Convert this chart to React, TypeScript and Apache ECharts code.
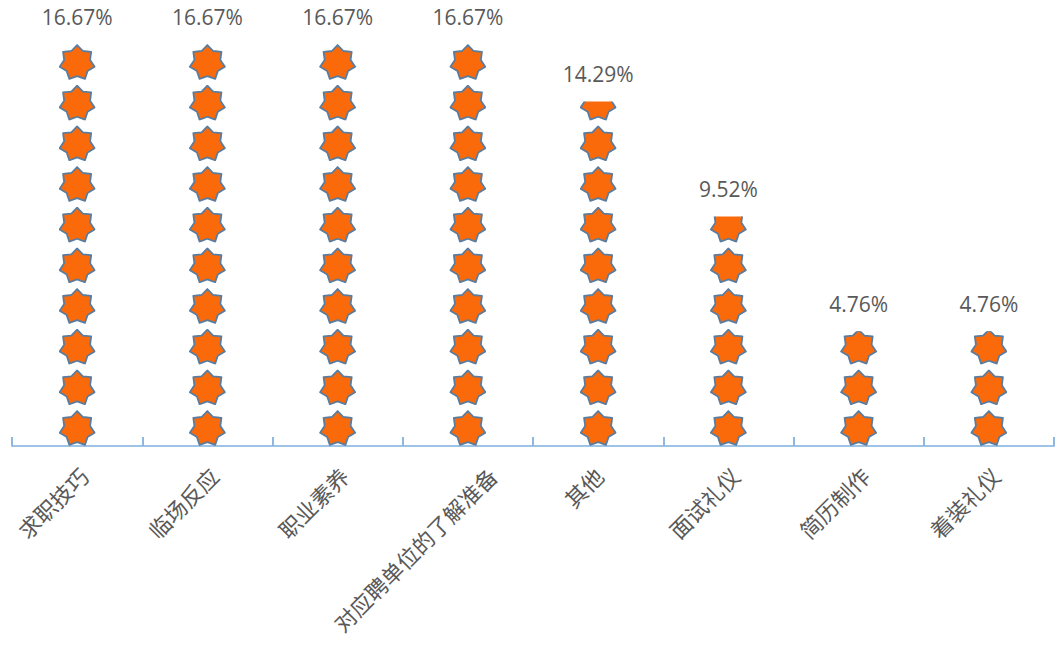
import React, { useEffect, useRef } from "react";
import * as echarts from "echarts";

const categories = ["求职技巧", "临场反应", "职业素养", "对应聘单位的了解准备", "其他", "面试礼仪", "简历制作", "着装礼仪"];
const values = [16.67, 16.67, 16.67, 16.67, 14.29, 9.52, 4.76, 4.76];
const maxValue = 16.67;

function starImage(points: number, inner: number, fill: string, stroke: string, sw: number): string {
  const pts: number[][] = [];
  for (let i = 0; i < points * 2; i++) {
    const r = i % 2 === 0 ? 50 : 50 * inner;
    const a = -Math.PI / 2 + (i * Math.PI) / points;
    pts.push([r * Math.cos(a), r * Math.sin(a)]);
  }
  const xs = pts.map((p) => p[0]);
  const ys = pts.map((p) => p[1]);
  const pad = sw / 2 + 0.5;
  const minX = Math.min(...xs) - pad;
  const minY = Math.min(...ys) - pad;
  const w = Math.max(...xs) - Math.min(...xs) + pad * 2;
  const h = Math.max(...ys) - Math.min(...ys) + pad * 2;
  const d = pts.map((p, i) => (i === 0 ? "M" : "L") + p[0].toFixed(2) + " " + p[1].toFixed(2)).join(" ") + " Z";
  const svg =
    `<svg xmlns="http://www.w3.org/2000/svg" viewBox="${minX.toFixed(2)} ${minY.toFixed(2)} ${w.toFixed(2)} ${h.toFixed(2)}" preserveAspectRatio="none">` +
    `<path d="${d}" fill="${fill}" stroke="${stroke}" stroke-width="${sw}" stroke-linejoin="round"/></svg>`;
  return "image://data:image/svg+xml;charset=utf-8," + encodeURIComponent(svg);
}

// spacer sizes so that the rotated label moves right with its length while its top stays level
function labelShift(name: string) {
  const n = name.length;
  const dx = 3 * n - 5;
  const dy = 26;
  const sum = dy * Math.SQRT2;
  const diff = dx * Math.SQRT2;
  return { h: Math.max((sum + diff) / 2 - 13, 1), w: Math.max((sum - diff) / 2, 0.5) };
}

export default function App() {
  const ref = useRef<HTMLDivElement>(null);
  useEffect(() => {
    if (!ref.current) return;
    const chart = echarts.init(ref.current, undefined, { renderer: "svg" });
    const rich: Record<string, any> = {
      t: { fontSize: 22, lineHeight: 24, color: "#595959", fontFamily: "Noto Sans CJK SC" },
    };
    categories.forEach((c, i) => {
      const s = labelShift(c);
      rich["v" + i] = { fontSize: 1, lineHeight: s.h, height: s.h };
      rich["w" + i] = { fontSize: 1, width: s.w, lineHeight: 24 };
    });
    chart.setOption({
      animation: false,
      grid: { left: 12, right: 3, top: 44, bottom: 206, containLabel: false },
      xAxis: {
        type: "category",
        data: categories,
        axisLine: { lineStyle: { color: "#9DC3E6", width: 2 } },
        axisTick: { show: true, inside: true, length: 9, lineStyle: { color: "#8FB8E0", width: 2 } },
        axisLabel: {
          rotate: 45,
          interval: 0,
          margin: 0,
          align: "right",
          verticalAlign: "top",
          color: "#595959",
          fontSize: 22,
          fontFamily: "Noto Sans CJK SC",
          formatter: (v: string) => {
            const i = categories.indexOf(v);
            return `{v${i}| }\n{t|${v}}{w${i}| }`;
          },
          rich,
        },
      },
      yAxis: {
        type: "value",
        min: 0,
        max: maxValue,
        show: false,
        splitLine: { show: false },
      },
      series: [
        {
          type: "pictorialBar",
          data: values,
          symbol: starImage(7, 0.74, "#FA6A0A", "#5A7C9E", 5),
          symbolSize: [37, 36],
          symbolRepeat: true,
          symbolClip: true,
          symbolMargin: 2.5,
          symbolBoundingData: maxValue,
          symbolPosition: "start",
          z: 2,
        },
        {
          type: "bar",
          data: values,
          barWidth: 36,
          barGap: "-100%",
          z: 1,
          itemStyle: { color: "transparent" },
          label: {
            show: true,
            position: "top",
            distance: 17,
            formatter: (p: any) => p.value.toFixed(2) + "%",
            color: "#595959",
            fontSize: 21,
            fontFamily: "Open Sans",
          },
        },
      ],
    });
    return () => chart.dispose();
  }, []);
  return <div ref={ref} style={{ width: 1057, height: 652, position: "absolute", left: 0, top: 0 }} />;
}
